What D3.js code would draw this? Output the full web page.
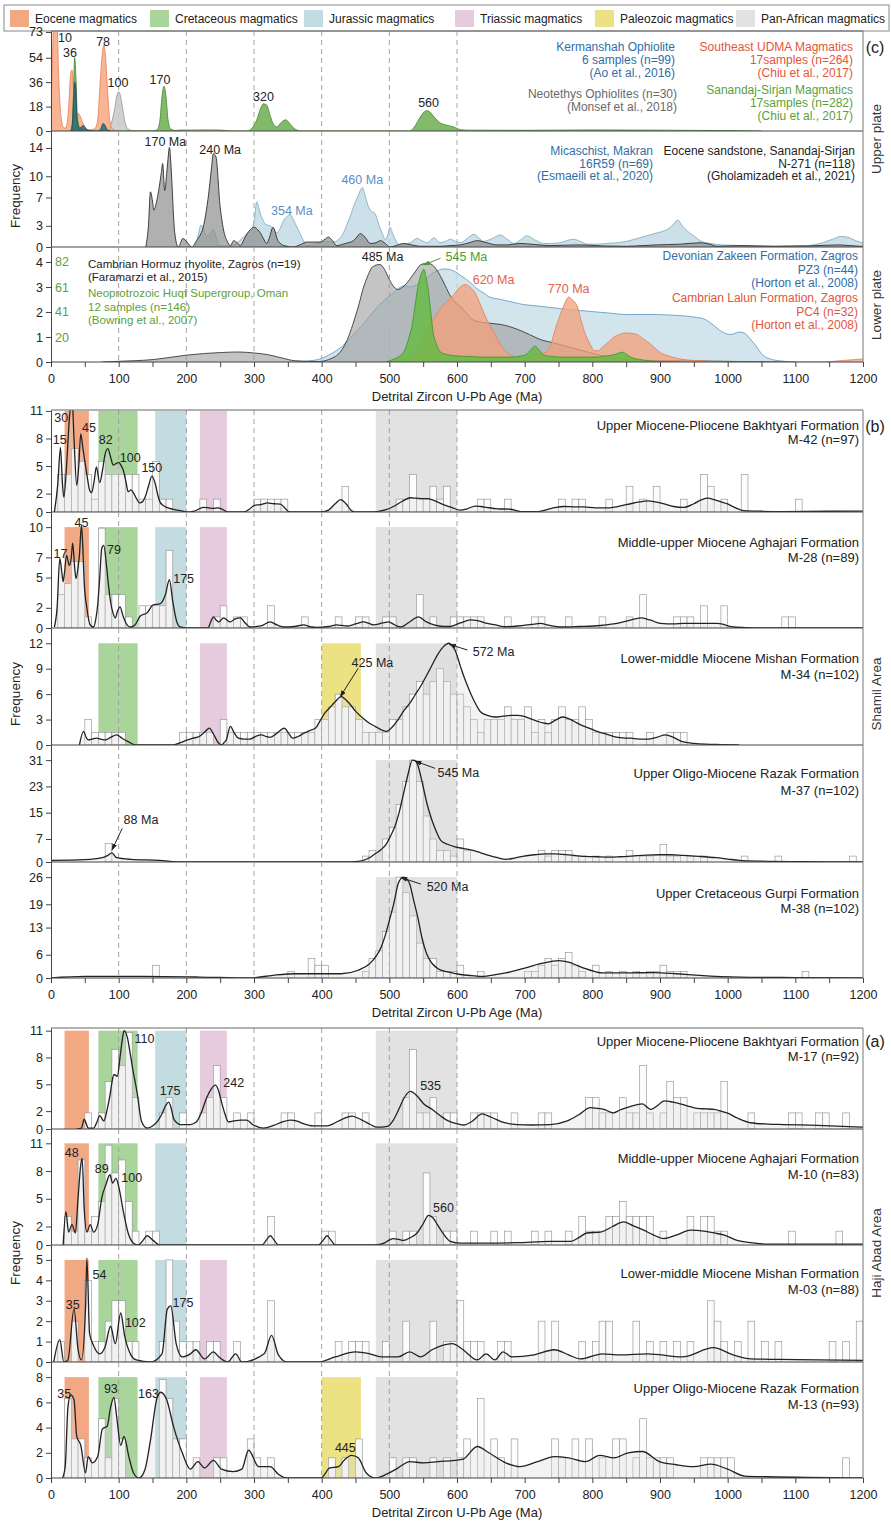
<!DOCTYPE html>
<html>
<head>
<meta charset="utf-8">
<script src="https://cdn.jsdelivr.net/npm/d3@7"></script>
<style>
body { margin: 0; background: #fff; }
text { font-family: "Liberation Sans", Arial, sans-serif; }
</style>
</head>
<body>
<script>
// ---------- data ----------
var legendNames = ["Eocene magmatics", "Cretaceous magmatics", "Jurassic magmatics", "Triassic magmatics", "Paleozoic magmatics", "Pan-African magmatics"];
var bandKeys = ["Eocene", "Cretaceous", "Jurassic", "Triassic", "Paleozoic", "Pan-African"];
var bandRanges = [[20, 56], [70, 128], [154, 200], [220, 260], [400, 458], [480, 600]];
var bandColors = ["#f3a884", "#a9d59d", "#c3dce1", "#e6cbdf", "#ede283", "#e2e2e2"];

var ageTicks = [0, 100, 200, 300, 400, 500, 600, 700, 800, 900, 1000, 1100, 1200];
var minorTicks = [50, 150, 250, 350, 450, 550, 650, 750, 850, 950, 1050, 1150];
var dashAges = [100, 200, 300, 400, 500, 600];

// (c) upper plate, sources
var c1Ticks = [0, 18, 36, 54, 73];
var c1Udma = [[0,15],[2,50],[4,80],[7,85],[9,80],[11,45],[13,22],[15,10],[18,3],[21,2],[24,6],[27,25],[29,42],[31,45],[33,32],[35,14],[37,10],[40,13],[43,11],[46,7],[50,3],[55,1],[60,1],[65,2],[69,8],[72,30],[75,52],[78,63],[80,58],[83,35],[86,12],[89,3],[94,0.5],[100,0]];
var c1Sanandaj = [[28,0],[31,3],[33,25],[35,54],[37,38],[39,10],[42,3],[46,1],[55,0.5],[65,0],[150,0],[157,1],[161,8],[164,25],[167,33],[170,25],[173,8],[177,1.5],[185,0.3],[200,0],[290,0],[297,2],[304,8],[310,17],[314,20],[319,19],[324,11],[330,4],[334,3],[338,5],[343,7.5],[347,8.2],[352,6],[356,3.5],[362,1],[370,0],[530,0],[537,3],[543,8],[548,12],[555,15],[560,14],[565,11],[575,6],[587,4],[595,3],[605,1],[620,0.6],[700,0.5],[800,0.8],[900,0.6],[1000,0.3],[1050,0]];
var c1Kermanshah = [[30,0],[32,8],[34,28],[35,36],[37,28],[38,12],[40,4],[42,2],[45,3],[48,4],[51,2],[55,0.5],[60,0],[70,0],[74,2],[77,5.5],[80,4],[83,1],[88,0]];
var c1Neotethys = [[25,0],[30,1],[40,3],[50,1],[60,0],[82,0],[86,2],[90,7],[94,16],[97,25],[100,29],[103,25],[106,16],[109,7],[113,2],[118,0.5],[125,0],[180,0],[190,0.8],[210,0.8],[230,1],[250,0.8],[265,0]];
var c1Peaks = [["10",20.7,68.5],["36",28,57.5],["78",77,65.6],["100",99,35.4],["170",161,37.6],["320",314,25],["560",558,20.6]];

var c2Ticks = [0, 3, 7, 10, 14];
var c2N271 = [[140,0],[144,3],[147,7.8],[150,6.5],[152,5.2],[156,6.4],[160,8.5],[163,10.5],[165,11.8],[168,8.0],[171,10.4],[173,12.5],[175,14.1],[177,12],[179,8.5],[181,4.5],[183,1.9],[188,0],[195,1.2],[201,0.7],[208,0],[215,0.9],[220,1.6],[225,2.8],[229,4.8],[233,7.5],[237,11],[240,13.2],[244,12.7],[247,9.5],[249,6.6],[252,4.2],[255,2.4],[260,0.9],[265,0.2],[270,0.9],[275,0.6],[280,0.2],[285,1],[290,1.9],[295,2.5],[300,2.8],[305,2.5],[310,1.9],[315,1.0],[319,0.5],[323,1.4],[328,2.8],[331,2.2],[334,1.2],[339,0.5],[344,0.2],[358,0],[370,0.4],[378,0.7],[390,0.7],[398,0.7],[405,1.1],[410,1.4],[416,0.9],[422,0.2],[435,0.5],[447,0.9],[452,1.4],[457,1.9],[464,1.4],[472,0.5],[480,0.6],[487,0.9],[494,0.5],[501,0],[510,0.2],[521,0.5],[533,0.3],[546,0.1],[575,0.1],[590,0.2],[605,0.3],[618,0.6],[630,0.9],[644,0.6],[659,0.3],[675,0.3],[693,0.5],[715,0.35],[737,0.2],[760,0.25],[781,0.3],[815,0.15],[850,0.1],[875,0.2],[895,0.3],[930,0.4],[959,0.6],[975,0.35],[984,0.1],[1018,0.2],[1067,0.1],[1120,0.15],[1165,0.3],[1196,0.1],[1200,0.1]];
var c2R59 = [[213,0],[217,1.5],[222,3.1],[226,2.3],[230,1.5],[235,1.9],[240,2.5],[244,1.4],[248,0.3],[260,0.1],[270,0.3],[278,0.8],[285,1.5],[291,2.0],[297,2.4],[301,4.2],[304,6.4],[307,5.6],[309,4.8],[313,3.9],[316,3.3],[320,3.1],[324,3.0],[329,2.5],[334,2.0],[339,2.7],[344,3.8],[349,4.3],[353,4.6],[357,4.1],[361,3.3],[365,2.5],[368,1.9],[373,0.9],[378,0.2],[388,0.3],[398,0.7],[408,0.8],[418,0.7],[424,1.0],[430,1.6],[435,2.6],[440,3.8],[444,4.8],[447,5.7],[451,6.6],[455,7.5],[460,8.4],[465,7.0],[468,6.0],[472,5.2],[476,4.9],[479,4.7],[483,3.6],[487,2.5],[491,1.6],[494,1.0],[498,1.8],[501,2.8],[505,1.9],[509,1.0],[516,0.3],[523,0.4],[531,0.6],[541,1.2],[548,0.9],[556,0.6],[566,1.3],[575,0.6],[583,0.8],[590,1.1],[598,0.8],[605,0.6],[615,1.2],[625,1.8],[632,1.3],[639,0.8],[650,1.1],[664,1.7],[674,1.1],[684,0.5],[694,1.0],[703,1.6],[715,1.0],[728,0.5],[740,0.5],[752,0.6],[762,0.9],[772,1.1],[782,0.8],[792,0.4],[807,0.4],[822,0.5],[837,0.6],[851,0.8],[866,1.2],[881,1.6],[896,2.0],[911,2.5],[919,3.1],[926,3.8],[933,3.0],[941,2.2],[951,1.5],[961,0.8],[975,0.5],[990,0.3],[1005,0.25],[1020,0.2],[1045,0.15],[1069,0.1],[1095,0.15],[1118,0.2],[1140,0.6],[1155,1.1],[1167,1.5],[1180,1.3],[1187,1.0],[1195,0.7],[1200,0.6]];
var c2PeaksDark = [["170 Ma",169,14.85],["240 Ma",250,13.7]];
var c2PeaksBlue = [["354 Ma",356,5.1],["460 Ma",460,9.5]];

// (c) lower plate
var c3Ticks = [0, 1, 2, 3, 4];
var c3HuqfTicks = [20, 41, 61, 82];
var c3Hormuz = [[75,0],[93,0.02],[152,0.1],[202,0.28],[252,0.38],[277,0.4],[300,0.36],[319,0.3],[340,0.17],[361,0.05],[395,0.02],[415,0.15],[429,0.45],[438,0.9],[446,1.5],[454,2.2],[462,3.0],[469,3.5],[475,3.8],[486,3.9],[493,3.7],[500,3.3],[507,3.0],[513,2.9],[520,3.0],[530,3.3],[538,3.6],[547,3.9],[557,3.95],[565,3.85],[572,3.6],[580,3.2],[589,2.7],[597,2.4],[606,2.2],[614,1.95],[623,1.7],[635,1.6],[648,1.55],[665,1.5],[690,1.3],[707,1.1],[723,0.9],[745,0.75],[765,0.6],[786,0.45],[807,0.3],[828,0.18],[849,0.1],[890,0.06],[933,0.05],[1017,0.02],[1100,0]];
var c3Pz3 = [[361,0],[380,0.04],[395,0.1],[412,0.3],[429,0.6],[442,0.95],[454,1.3],[467,1.7],[479,2.1],[492,2.45],[505,2.75],[517,3.0],[522,3.05],[530,3.0],[538,3.05],[547,3.2],[556,3.4],[564,3.55],[572,3.65],[580,3.72],[589,3.7],[598,3.6],[606,3.45],[614,3.3],[623,3.1],[631,2.9],[640,2.75],[648,2.6],[665,2.5],[681,2.4],[698,2.3],[715,2.25],[732,2.2],[749,2.15],[765,2.1],[786,2.05],[807,2.0],[828,1.95],[849,1.9],[870,1.9],[891,1.9],[912,1.88],[933,1.85],[950,1.8],[967,1.7],[980,1.45],[992,1.2],[1005,1.1],[1017,1.2],[1025,1.15],[1034,0.9],[1043,0.6],[1051,0.3],[1063,0.12],[1076,0.05],[1101,0]];
var c3Pc4 = [[505,0],[513,0.05],[525,0.12],[538,0.3],[547,0.7],[555,1.2],[564,1.65],[572,2.0],[580,2.3],[589,2.5],[597,2.75],[601,2.9],[607,3.05],[612,3.1],[619,3.0],[626,2.8],[633,2.4],[639,2.0],[648,1.5],[656,1.1],[664,0.7],[673,0.4],[681,0.25],[690,0.15],[702,0.2],[715,0.3],[732,0.4],[740,0.8],[744,1.2],[750,1.7],[757,2.2],[762,2.5],[765,2.6],[770,2.5],[778,2.2],[784,1.6],[790,1.1],[797,0.7],[803,0.45],[809,0.45],[815,0.6],[824,0.8],[832,1.0],[840,1.1],[849,1.16],[857,1.15],[866,1.1],[874,0.95],[882,0.8],[891,0.6],[899,0.4],[912,0.25],[924,0.15],[941,0.08],[958,0.05],[1000,0],[1140,0],[1170,0.06],[1200,0.12]];
var c3Huqf = [[495,0],[505,2],[521,8],[530,22],[534,31],[538,46],[542,61],[547,72],[551,76],[554,70],[557,61],[561,42],[564,27],[570,14],[576,8],[586,6],[598,5],[620,4.5],[639,4],[660,4],[681,4],[695,5],[702,6],[709,10],[715,13],[721,10],[727,6],[740,4.5],[757,4],[780,4],[807,4],[820,5],[832,6],[840,7.5],[845,8],[851,6],[857,4],[870,2],[882,1],[900,0.3],[933,0]];
var c3PeaksDark = [["485 Ma",490,4.2]];
var c3PeaksGreen = [["545 Ma",614,4.2]];
var c3PeaksRed = [["620 Ma",654,3.28],["770 Ma",765,2.92]];
var c3Arrow = [[575.7,4.15,550.5,3.88]];

// (b) Shamil Area
var b1Ticks = [0, 2, 5, 8, 11];
var b1Bands = ["Eocene", "Cretaceous", "Jurassic", "Triassic", "Pan-African"];
var b1Bars = [[10,4.1],[20,4.1],[30,6.9],[40,5.5],[50,4.1],[60,1.4],[70,5.5],[80,4.1],[90,4.1],[100,4.1],[110,4.1],[120,4.1],[130,1.4],[140,1.4],[150,5.5],[160,1.4],[170,1.4],[220,1.4],[240,1.4],[300,1.4],[310,1.4],[320,1.4],[330,1.4],[340,1.4],[430,2.8],[510,1.4],[520,1.4],[530,4.1],[540,1.4],[550,1.4],[560,2.8],[570,1.4],[580,2.8],[630,1.4],[640,1.4],[670,1.4],[750,1.4],[770,1.4],[780,1.4],[820,1.4],[850,2.8],[870,1.4],[890,2.8],[930,1.4],[960,4.1],[970,2.8],[990,1.4],[1020,4.1],[1100,1.4]];
var b1Kde = [[5,0],[10,3],[14,7.0],[17,3],[19,1.6],[23,5],[27,10],[31,12.5],[34,8],[38,2.9],[41,5],[44,8.5],[47,7],[53,4.1],[57,2.4],[60,2.1],[64,3.5],[67,4.9],[72,3.2],[76,4.5],[80,6.3],[84,6.9],[88,6],[92,5.1],[97,5.3],[100,5.4],[104,5.0],[107,4.5],[111,3.2],[114,2.2],[118,2.4],[121,2.2],[126,1.5],[131,1.0],[135,1.1],[139,1.6],[144,2.8],[149,3.9],[154,3.1],[158,1.8],[161,1.1],[166,0.7],[171,0.5],[180,0.3],[191,0.15],[200,0],[212,0.1],[225,0.5],[233,0.45],[240,0.4],[246,0.45],[252,0.35],[258,0.1],[262,0],[285,0],[293,0.3],[300,0.7],[309,0.8],[315,0.9],[319,1.0],[324,0.95],[329,0.9],[339,0.85],[345,0.5],[351,0.05],[358,0],[400,0],[410,0.2],[420,0.9],[428,1.35],[436,0.9],[445,0.1],[452,0],[470,0],[482,0.05],[495,0.25],[506,0.6],[520,1.2],[531,1.55],[540,1.5],[550,1.45],[556,1.45],[565,1.3],[580,0.8],[592,0.5],[605,0.2],[615,0.35],[627,0.65],[635,0.6],[644,0.5],[660,0.35],[679,0.3],[694,0.05],[718,0.05],[740,0.4],[758,0.6],[775,0.55],[787,0.55],[805,0.45],[822,0.45],[850,0.8],[870,1.1],[881,1.2],[893,1.1],[905,0.9],[920,0.6],[935,0.5],[950,0.9],[962,1.35],[970,1.5],[980,1.35],[990,1.1],[999,0.9],[1010,0.5],[1024,0.15],[1050,0.08],[1083,0.05],[1150,0.08],[1200,0.1]];
var b1Title = ["Upper Miocene-Pliocene Bakhtyari Formation", "M-42 (n=97)"];
var b1Peaks = [["15",13,7.8],["30",15,10.2],["45",56,9.1],["82",81,7.8],["100",117,5.9],["150",149,4.8]];

var b2Ticks = [0, 2, 5, 7, 10];
var b2Bands = ["Eocene", "Cretaceous", "Jurassic", "Triassic", "Pan-African"];
var b2Bars = [[10,3.3],[20,4.4],[30,6.6],[40,6.6],[50,1.1],[70,9.9],[80,3.3],[90,3.3],[100,3.3],[110,1.1],[130,2.2],[140,2.2],[150,2.2],[160,2.2],[170,7.7],[240,1.1],[250,2.2],[270,1.1],[280,1.1],[320,2.2],[370,1.1],[420,1.1],[450,1.1],[460,1.1],[490,1.1],[500,1.1],[540,3.3],[560,1.1],[590,1.1],[600,1.1],[610,1.1],[620,1.1],[630,1.1],[670,1.1],[710,1.1],[720,1.1],[760,1.1],[810,1.1],[850,1.1],[870,3.3],[920,1.1],[930,1.1],[940,1.1],[960,2.2],[990,2.2],[1080,1.1],[1090,1.1]];
var b2Kde = [[5,0.1],[9,2],[13,6.9],[16,5.5],[18,4.6],[20,5.5],[23,7.2],[27,6.2],[30,7],[32,8.4],[35,6],[37,4.9],[40,6],[42,7.2],[45,10.2],[47,8],[49,4.6],[53,2.0],[58,0.3],[63,0.1],[66,0.8],[69,2.3],[72,5],[75,7.9],[78,8.2],[82,6.2],[85,4.2],[88,2.6],[92,1.4],[95,1.0],[98,1.6],[102,2.1],[106,1.3],[110,0.6],[117,0.1],[124,0.3],[132,1.2],[142,1.5],[151,2.3],[161,2.4],[169,3.3],[175,4.8],[180,2.6],[186,0.6],[191,0.1],[201,0],[232,0],[236,0.6],[240,1.1],[244,0.8],[248,0.6],[255,1.0],[265,0.6],[272,0.9],[280,1.0],[287,0.5],[294,0.1],[310,0.2],[324,0.6],[334,0.3],[344,0.1],[360,0.15],[373,0.3],[385,0.1],[393,0.05],[410,0.15],[422,0.3],[430,0.25],[437,0.2],[450,0.4],[462,0.6],[470,0.45],[477,0.3],[490,0.5],[499,0.6],[508,0.3],[516,0.1],[530,0.6],[543,1.1],[555,0.6],[566,0.3],[580,0.15],[590,0.15],[605,0.5],[620,0.8],[632,0.7],[645,0.45],[657,0.3],[669,0.13],[690,0.2],[710,0.35],[723,0.45],[737,0.25],[753,0.1],[780,0.15],[812,0.25],[840,0.5],[860,0.85],[872,1.0],[885,0.8],[901,0.45],[920,0.4],[935,0.45],[955,0.45],[985,0.45],[1009,0.1],[1030,0.03],[1058,0],[1200,0]];
var b2Title = ["Middle-upper Miocene Aghajari Formation", "M-28 (n=89)"];
var b2Peaks = [["45",45,10.4],["17",14,7.3],["79",93,7.7],["175",196,4.9]];

var b3Ticks = [0, 3, 6, 9, 12];
var b3Bands = ["Cretaceous", "Triassic", "Paleozoic", "Pan-African"];
var b3Bars = [[50,3.0],[60,1.5],[70,1.5],[80,1.5],[90,1.5],[100,1.5],[190,1.5],[200,1.5],[210,1.5],[220,1.5],[230,1.5],[250,3.0],[260,1.5],[270,1.5],[280,1.5],[290,1.5],[300,1.5],[310,1.5],[320,1.5],[330,1.5],[340,1.5],[350,1.5],[360,1.5],[370,1.5],[380,1.5],[390,3.0],[400,3.0],[410,4.5],[420,6.0],[430,4.5],[440,4.5],[450,3.0],[460,1.5],[470,1.5],[480,1.5],[490,1.5],[500,3.0],[510,3.0],[520,4.5],[530,6.0],[540,7.5],[550,6.0],[560,7.5],[570,9.0],[580,7.5],[590,6.0],[600,6.0],[610,4.5],[620,3.0],[630,1.5],[640,3.0],[650,3.0],[660,3.0],[670,4.5],[680,3.0],[690,3.0],[700,4.5],[710,1.5],[720,3.0],[730,1.5],[740,3.0],[750,4.5],[760,3.0],[770,3.0],[780,4.5],[790,3.0],[800,1.5],[810,1.5],[820,1.5],[830,1.5],[840,1.5],[850,1.5],[880,1.5],[910,1.5],[920,1.5],[930,1.5]];
var b3Kde = [[42,0],[48,1.6],[52,0.9],[55,0.6],[61,0.7],[67,0.8],[73,0.7],[80,0.6],[88,0.9],[97,1.2],[105,0.8],[114,0.4],[126,0],[181,0],[192,0.3],[202,0.6],[210,0.8],[219,1.0],[228,1.6],[234,2.0],[240,1.3],[248,0.2],[252,0],[256,0.3],[259,0.6],[265,2.2],[271,1.4],[277,0.8],[285,0.7],[294,0.7],[302,1.0],[311,1.2],[318,1.0],[324,0.9],[334,1.4],[345,2.0],[351,1.4],[357,0.8],[365,1.0],[374,1.4],[382,1.7],[391,2.0],[398,2.9],[404,3.7],[412,4.4],[420,5.1],[429,5.7],[435,5.4],[441,4.9],[450,4.0],[462,3.1],[470,2.6],[479,2.2],[488,1.8],[496,1.6],[504,2.1],[513,3.0],[521,4.0],[530,4.9],[538,5.9],[546,6.9],[555,8.2],[563,9.4],[571,10.6],[580,11.6],[588,12.0],[593,11.7],[597,11.2],[605,9.3],[611,7.9],[618,6.5],[626,5.1],[635,3.9],[645,3.5],[656,3.3],[668,3.4],[681,3.5],[690,3.5],[698,3.4],[708,3.1],[719,2.8],[727,2.6],[735,2.5],[745,2.9],[756,3.3],[765,3.1],[773,2.8],[782,2.4],[795,2.0],[807,1.6],[820,1.3],[832,1.0],[845,0.85],[857,0.8],[870,0.7],[882,0.7],[895,0.9],[908,1.2],[920,0.9],[933,0.4],[950,0.2],[967,0.1],[990,0.05],[1017,0]];
var b3Title = ["Lower-middle Miocene Mishan Formation", "M-34 (n=102)"];
var b3Notes = [["425 Ma",475,9.63],["572 Ma",654,10.93]];
var b3Arrows = [[454,9.05,427.5,5.7],[615.4,11.2,588.8,11.87]];

var b4Ticks = [0, 7, 15, 23, 31];
var b4Bands = ["Pan-African"];
var b4Bars = [[80,5.6],[460,1.8],[470,3.5],[490,7.0],[500,10.5],[510,17.5],[520,24.5],[530,31],[540,24.5],[550,14],[560,7],[570,3.5],[580,3.5],[590,1.8],[600,7.0],[610,3.5],[720,3.5],[730,1.8],[740,3.5],[750,3.5],[760,3.5],[770,1.8],[780,1.8],[800,1.8],[820,1.8],[850,3.5],[870,1.8],[880,1.8],[900,5.3],[910,1.8],[920,1.8],[940,1.8],[960,1.8],[1020,1.8],[1070,1.8],[1180,1.8]];
var b4Kde = [[0,0.5],[50,0.7],[76,1.3],[84,2.0],[90,2.8],[97,1.3],[118,0.8],[160,0.5],[193,0],[430,0],[454,0.2],[470,1.2],[479,2.5],[488,3.8],[496,5.6],[502,8],[508,10.7],[515,15.5],[521,20.8],[528,27],[534,31],[538,30.8],[542,29.5],[546,26.5],[550,22.9],[556,17.5],[563,12.7],[570,9],[576,6.6],[586,5.4],[597,4.6],[610,4.1],[622,3.6],[635,2.8],[647,2.0],[660,1.3],[672,0.8],[685,1.2],[697,1.7],[714,2.2],[731,2.5],[745,2.5],[756,2.3],[773,2.0],[790,1.7],[807,1.6],[824,1.5],[840,1.6],[858,1.8],[880,2.1],[900,2.2],[916,2.2],[933,2.0],[958,1.7],[983,1.3],[1000,0.9],[1017,0.5],[1050,0.25],[1101,0.1],[1150,0.05],[1202,0]];
var b4Title = ["Upper Oligo-Miocene Razak Formation", "M-37 (n=102)"];
var b4Notes = [["545 Ma",602,27],["88 Ma",133,12.8]];
var b4Arrows = [[567.6,28.5,538,30.7],[105.3,10.24,90.1,3.65]];

var b5Ticks = [0, 6, 13, 19, 26];
var b5Bands = ["Pan-African"];
var b5Bars = [[150,3.3],[350,1.7],[380,5.0],[390,3.3],[400,3.3],[460,1.7],[470,5.0],[480,7],[490,12],[500,17],[510,26],[520,22],[530,16],[540,9],[550,5],[560,5],[570,1.7],[580,1.7],[590,1.7],[600,3.3],[630,1.7],[700,1.7],[710,1.7],[720,3.3],[730,5.0],[740,3.3],[750,5.0],[760,6.6],[770,3.3],[780,1.7],[800,3.3],[820,1.7],[840,1.7],[860,1.7],[880,1.7],[890,1.7],[900,3.3],[910,1.7],[920,1.7],[930,1.7],[1110,1.7]];
var b5Kde = [[0,0],[50,0.4],[135,0.4],[219,0.25],[294,0],[328,0.7],[361,1.1],[395,1.1],[429,1.1],[454,2.0],[471,3.7],[480,5.5],[488,8.0],[494,11],[500,14.8],[507,19.5],[513,24.3],[517,25.6],[521,26],[526,25.5],[530,24.3],[536,20],[542,15.7],[548,10.5],[555,6.3],[563,3.8],[572,2.4],[588,1.5],[605,0.9],[622,0.6],[639,0.4],[655,0.8],[672,1.3],[697,2.4],[723,3.7],[740,4.3],[750,4.5],[765,4.1],[778,3.2],[790,2.4],[803,1.7],[815,1.3],[849,1.3],[891,1.4],[925,1.1],[958,0.7],[1017,0.25],[1101,0.1],[1202,0]];
var b5Title = ["Upper Cretaceous Gurpi Formation", "M-38 (n=102)"];
var b5Notes = [["520 Ma",586,23.5]];
var b5Arrows = [[546.6,24.2,517.2,25.9]];

// (a) Haji Abad Area
var a1Ticks = [0, 2, 5, 8, 11];
var a1Bands = ["Eocene", "Cretaceous", "Jurassic", "Triassic", "Pan-African"];
var a1Bars = [[50,1.8],[70,1.8],[80,5.3],[90,8.9],[100,7.1],[110,10.8],[120,3.5],[160,1.8],[170,3.5],[190,1.8],[220,1.8],[230,3.5],[240,7.1],[250,3.5],[270,1.8],[290,1.8],[340,1.8],[350,1.8],[390,1.8],[430,1.8],[440,1.8],[460,1.8],[520,3.5],[530,8.9],[540,1.8],[550,1.8],[560,3.5],[580,1.8],[590,1.8],[620,1.8],[630,1.8],[640,1.8],[650,1.8],[680,1.8],[720,1.8],[730,1.8],[790,3.5],[800,3.5],[810,1.8],[820,1.8],[840,3.5],[850,1.8],[860,1.8],[870,7.1],[880,1.8],[900,1.8],[910,5.3],[920,3.5],[930,3.5],[950,1.8],[960,1.8],[970,1.8],[980,1.8],[990,5.3],[1030,1.8],[1090,1.8],[1100,1.8],[1130,1.8],[1140,1.8],[1170,1.8]];
var a1Kde = [[38,0],[45,0.1],[49,1.1],[52,0.6],[55,0.1],[63,0.1],[68,0.8],[72,1.5],[75,1.2],[78,0.9],[83,2.2],[87,3.7],[90,5.2],[93,6.1],[98,5.9],[102,8.0],[105,9.8],[108,11],[113,10.2],[117,8.5],[121,6.6],[125,5],[128,3.7],[131,2],[134,0.8],[142,0.1],[151,0.4],[158,0.9],[164,1.7],[170,2.7],[174,3.0],[178,2.2],[181,1.2],[186,0.7],[191,0.5],[206,0.5],[215,0.8],[222,1.8],[230,3.5],[237,4.5],[243,4.9],[248,4.2],[252,3.0],[257,1.7],[262,0.8],[270,0.9],[280,1.0],[289,1.0],[299,0.45],[314,0.1],[329,0.4],[342,0.8],[354,1.0],[365,0.85],[373,0.6],[388,0.35],[408,0.35],[420,0.7],[428,1.0],[437,1.3],[445,1.45],[454,1.2],[462,0.9],[472,0.5],[482,0.2],[497,0.3],[506,1.0],[514,2.2],[522,3.5],[531,4.2],[541,3.7],[551,2.8],[563,2.2],[575,1.5],[587,0.9],[600,0.6],[610,0.45],[623,0.9],[637,1.7],[645,1.5],[654,1.2],[670,0.7],[689,0.5],[710,0.45],[738,0.5],[763,0.9],[780,1.6],[797,2.4],[808,2.3],[817,2.2],[831,1.8],[840,2.1],[851,2.4],[865,2.7],[874,2.8],[880,2.5],[886,2.2],[896,2.6],[906,3.15],[916,3.05],[926,2.9],[940,2.6],[955,2.3],[968,2.25],[980,2.2],[990,2.0],[999,1.8],[1015,1.2],[1034,0.7],[1060,0.55],[1083,0.5],[1133,0.4],[1170,0.3],[1202,0.2]];
var a1Title = ["Upper Miocene-Pliocene Bakhtyari Formation", "M-17 (n=92)"];
var a1Peaks = [["110",138,10.1],["175",176,4.25],["242",270,5.1],["535",561,4.85]];

var a2Ticks = [0, 2, 5, 8, 11];
var a2Bands = ["Eocene", "Cretaceous", "Jurassic", "Pan-African"];
var a2Bars = [[20,3.1],[30,1.5],[40,9.2],[50,1.5],[60,3.1],[70,4.7],[80,10.8],[90,7.8],[100,9.2],[110,4.7],[120,1.5],[140,1.5],[150,1.5],[320,3.1],[400,1.5],[410,1.5],[500,1.5],[520,1.5],[530,1.5],[550,7.8],[560,3.1],[580,1.5],[590,1.5],[620,1.5],[650,1.5],[670,1.5],[710,1.5],[730,1.5],[760,1.5],[780,3.1],[790,1.5],[800,1.5],[810,1.5],[820,3.1],[830,3.1],[840,4.7],[850,3.1],[860,3.1],[870,3.1],[880,3.1],[900,1.5],[940,3.1],[960,3.1],[970,3.1],[980,1.5],[990,1.5],[1090,1.5],[1160,1.5]];
var a2Kde = [[18,0],[22,3.6],[26,1.4],[31,2.2],[36,1.3],[40,5.1],[44,8.7],[46,9.4],[49,4.0],[53,1.4],[58,2.2],[63,1.4],[69,2.2],[75,5.1],[81,6.5],[87,7.6],[91,6.7],[96,7.2],[101,6.0],[107,3.6],[114,1.3],[122,0.2],[129,0],[136,0.5],[142,1.0],[151,0.5],[161,0],[312,0],[318,0.5],[324,1.0],[330,0.5],[336,0],[395,0],[402,0.5],[408,1.0],[414,0.5],[420,0],[480,0],[492,0.2],[499,0.5],[506,0.7],[514,0.6],[521,0.5],[531,0.8],[541,1.3],[550,2.3],[558,3.2],[565,2.9],[571,2.2],[580,1.2],[590,0.4],[605,0.2],[640,0.2],[689,0.25],[738,0.4],[768,0.4],[780,0.8],[792,1.3],[812,1.4],[830,2.0],[846,2.5],[860,2.1],[876,1.6],[890,1.1],[906,0.7],[925,1.1],[945,1.6],[965,1.5],[980,1.3],[994,1.1],[1014,0.5],[1035,0.25],[1058,0.1],[1201,0.1]];
var a2Title = ["Middle-upper Miocene Aghajari Formation", "M-10 (n=83)"];
var a2Peaks = [["48",30.6,10],["89",75,8.2],["100",119.3,7.3],["560",580,3.97]];

var a3Ticks = [0, 1, 2, 3, 4, 5];
var a3Bands = ["Eocene", "Cretaceous", "Jurassic", "Triassic", "Pan-African"];
var a3Bars = [[10,1],[30,2],[50,4],[60,1],[70,1],[80,2],[90,3],[100,3],[110,1],[120,1],[160,1],[170,5],[180,2],[190,1],[200,1],[210,1],[230,1],[240,1],[270,1],[320,3],[420,1],[440,1],[450,1],[460,1],[490,1],[520,2],[560,2],[580,1],[590,1],[600,3],[610,1],[620,1],[630,1],[660,1],[670,1],[720,2],[740,2],[780,1],[800,1],[810,2],[820,2],[860,2],[880,1],[900,1],[920,1],[940,1],[970,3],[980,2],[990,1],[1010,1],[1030,2],[1050,1],[1070,1],[1150,1],[1170,1],[1190,2]];
var a3Kde = [[4,0],[13,1.1],[19,0],[25,0.1],[34,2.6],[40,0.6],[45,0.1],[51,2.6],[53,5.1],[57,1.4],[63,0.8],[72,0.4],[80,0.75],[88,1.75],[95,0.9],[103,2.4],[109,1.25],[118,0.35],[126,0.1],[147,0],[164,0.4],[172,2.6],[177,2.75],[185,0.9],[194,0.25],[206,0.4],[214,0.6],[227,0.15],[240,0.5],[248,0.25],[261,0],[273,0.4],[282,0],[315,0.4],[326,1.3],[336,0.35],[349,0],[395,0],[420,0.25],[450,0.5],[471,0.4],[488,0.25],[513,0.25],[530,0.5],[546,0.25],[563,0.6],[593,0.9],[609,0.6],[630,0.1],[643,0.4],[656,0.1],[668,0.5],[681,0.25],[714,0.35],[744,0.6],[765,0.35],[782,0.15],[815,0.4],[840,0.35],[882,0.4],[933,0.25],[979,0.7],[1008,0.35],[1034,0.15],[1101,0.12],[1202,0.08]];
var a3Title = ["Lower-middle Miocene Mishan Formation", "M-03 (n=88)"];
var a3Peaks = [["54",71.6,4.26],["35",32,2.8],["102",124.6,1.9],["175",195,2.88]];

var a4Ticks = [0, 2, 4, 6, 8];
var a4Bands = ["Eocene", "Cretaceous", "Jurassic", "Triassic", "Paleozoic", "Pan-African"];
var a4Bars = [[20,6.3],[30,3.1],[40,3.1],[50,1.6],[70,4.7],[80,1.6],[90,6.3],[100,3.1],[160,7.8],[170,6.3],[180,3.1],[190,3.1],[210,1.6],[240,1.6],[250,1.6],[290,3.1],[300,1.6],[320,1.6],[410,1.6],[430,1.6],[450,3.1],[500,1.6],[520,1.6],[530,1.6],[560,1.6],[580,1.6],[600,1.6],[610,3.1],[630,6.3],[650,3.1],[660,1.6],[680,3.1],[740,3.1],[750,1.6],[770,3.1],[790,3.1],[810,1.6],[830,3.1],[840,3.1],[860,1.6],[870,4.7],[880,1.6],[890,1.6],[900,1.6],[910,1.6],[960,1.6],[970,1.6],[980,1.6],[990,1.6],[1000,1.6],[1170,1.6]];
var a4Kde = [[17,0],[21,0.9],[25,5.6],[29,6.6],[34,6.2],[38,3.3],[44,2.6],[51,0.4],[55,1.7],[61,1.2],[69,1.7],[76,3.9],[83,4.1],[88,5.6],[93,6.4],[97,4.9],[103,2.6],[108,3.3],[115,1.7],[122,0.4],[130,0],[139,0.7],[147,3.0],[156,6.2],[162,6.8],[171,6.2],[181,4.1],[194,2.0],[206,0.7],[217,1.3],[227,0.8],[240,1.4],[252,0.7],[269,0.5],[282,0.7],[292,2.2],[307,0.9],[324,0.9],[336,0.3],[349,0],[399,0],[412,0.8],[425,0.9],[433,1.4],[444,1.8],[454,1.6],[466,0.4],[479,0],[496,0.3],[513,0.8],[530,1.3],[551,1.2],[572,1.3],[597,1.4],[609,1.5],[630,2.5],[647,2.0],[672,1.2],[693,0.9],[719,1.3],[744,1.7],[765,1.6],[790,1.3],[811,1.8],[832,1.6],[853,2.0],[874,2.1],[899,1.3],[924,1.05],[950,0.9],[975,1.1],[1000,0.7],[1025,0.15],[1059,0.1],[1202,0]];
var a4Title = ["Upper Oligo-Miocene Razak Formation", "M-13 (n=93)"];
var a4Peaks = [["35",19.5,6.7],["93",88.5,7.04],["163",144,6.7],["445",435,2.36]];

// ---------- layout ----------
var W = 891, H = 1522;
var legendX = [10, 150, 304, 455, 595, 736];
var FONT = '"Liberation Sans", Arial, sans-serif';

var svg = d3.select("body").append("svg")
	.attr("width", W)
	.attr("height", H)
	.style("background", "#fff");

var defs = svg.append("defs");
[["arrowK", "#222"], ["arrowG", "#4f9a35"]].forEach(function(m) {
	defs.append("marker")
		.attr("id", m[0])
		.attr("viewBox", "0 0 10 10")
		.attr("refX", 9).attr("refY", 5)
		.attr("markerWidth", 7).attr("markerHeight", 7)
		.attr("orient", "auto")
		.append("path").attr("d", "M0,1.5 L10,5 L0,8.5 Z").attr("fill", m[1]);
});

var x = d3.scaleLinear().domain([0, 1200]).range([51, 863]);

// legend
var legend = svg.append("g");
legend.append("rect")
	.attr("x", 4).attr("y", 5).attr("width", 885).attr("height", 26)
	.attr("fill", "#fff").attr("stroke", "#888").attr("stroke-width", 1);
legendNames.forEach(function(name, i) {
	legend.append("rect")
		.attr("x", legendX[i]).attr("y", 10).attr("width", 19).attr("height", 17)
		.attr("fill", bandColors[i]);
	legend.append("text")
		.attr("x", legendX[i] + 25).attr("y", 18.5)
		.attr("dominant-baseline", "central")
		.attr("font-size", 12).attr("fill", "#222")
		.text(name);
});

var clipCount = 0;

function yAxis(g, y, ticks) {
	g.append("g")
		.attr("transform", "translate(" + x(0) + ",0)")
		.call(d3.axisLeft(y).tickValues(ticks).tickSize(5).tickSizeOuter(0).tickPadding(3)
			.tickFormat(function(d) { return String(d); }))
		.call(function(a) {
			a.select(".domain").attr("stroke", "#444");
			a.selectAll(".tick line").attr("stroke", "#444");
			a.selectAll("text").attr("font-size", 12.5).attr("fill", "#222").attr("font-family", FONT);
		});
}

function panelFrame(p) {
	var g = svg.append("g");
	var y = d3.scaleLinear().domain([0, p.yMax]).range([p.bottom, p.top]);
	var id = "clip" + (clipCount++);
	defs.append("clipPath").attr("id", id)
		.append("rect").attr("x", x(0)).attr("y", p.top)
		.attr("width", x(1200) - x(0)).attr("height", p.bottom - p.top);
	var inner = g.append("g").attr("clip-path", "url(#" + id + ")");
	return {g: g, y: y, inner: inner};
}

function dashes(inner, y, p) {
	inner.selectAll(".dash").data(dashAges).enter().append("line")
		.attr("x1", function(d) { return x(d); }).attr("x2", function(d) { return x(d); })
		.attr("y1", p.top).attr("y2", p.bottom)
		.attr("stroke", "#9a9a9a").attr("stroke-width", 0.9)
		.attr("stroke-dasharray", "5,4");
}

function labels(g, y, list, color, size) {
	g.selectAll(null).data(list).enter().append("text")
		.attr("x", function(d) { return x(d[1]); })
		.attr("y", function(d) { return y(d[2]); })
		.attr("text-anchor", "middle").attr("dominant-baseline", "central")
		.attr("font-size", size || 12.5).attr("fill", color)
		.text(function(d) { return d[0]; });
}

function arrows(g, y, list, marker, color) {
	g.selectAll(null).data(list).enter().append("line")
		.attr("x1", function(d) { return x(d[0]); }).attr("y1", function(d) { return y(d[1]); })
		.attr("x2", function(d) { return x(d[2]); }).attr("y2", function(d) { return y(d[3]); })
		.attr("stroke", color).attr("stroke-width", 1)
		.attr("marker-end", "url(#" + marker + ")");
}

function notes(g, list) {
	list.forEach(function(n) {
		n.lines.forEach(function(t, i) {
			g.append("text")
				.attr("x", n.x).attr("y", n.y + i * n.step)
				.attr("text-anchor", n.anchor).attr("dominant-baseline", "central")
				.attr("font-size", n.size).attr("fill", n.color)
				.text(t);
		});
	});
}

function areaPath(inner, y, data, fill, opacity, stroke) {
	var ar = d3.area().x(function(d) { return x(d[0]); })
		.y0(y(0)).y1(function(d) { return y(d[1]); })
		.curve(d3.curveMonotoneX);
	var ln = d3.line().x(function(d) { return x(d[0]); })
		.y(function(d) { return y(d[1]); })
		.curve(d3.curveMonotoneX);
	inner.append("path").datum(data).attr("d", ar)
		.attr("fill", fill).attr("fill-opacity", opacity);
	inner.append("path").datum(data).attr("d", ln)
		.attr("fill", "none").attr("stroke", stroke).attr("stroke-width", 0.9);
}

function baseLine(g, y) {
	g.append("line")
		.attr("x1", x(0)).attr("x2", x(1200))
		.attr("y1", y(0)).attr("y2", y(0))
		.attr("stroke", "#444").attr("stroke-width", 1.2);
}

// ---------- (c) ----------
var pc1 = {top: 31, bottom: 131, yMax: 73.7};
var pc2 = {top: 131, bottom: 247, yMax: 16.4};
var pc3 = {top: 247, bottom: 362, yMax: 4.6};

var f1 = panelFrame(pc1);
dashes(f1.inner, f1.y, pc1);
areaPath(f1.inner, f1.y, c1Neotethys, "#c9c9c9", 0.85, "#9b9b9b");
areaPath(f1.inner, f1.y, c1Udma, "#f6a27c", 0.8, "#e9855c");
areaPath(f1.inner, f1.y, c1Sanandaj, "#76b25a", 0.9, "#4f8f35");
areaPath(f1.inner, f1.y, c1Kermanshah, "#2c6a78", 0.85, "#1d4f5a");
baseLine(f1.g, f1.y);
yAxis(f1.g, f1.y, c1Ticks);
labels(f1.g, f1.y, c1Peaks, "#222");
notes(f1.g, [
	{lines: ["Kermanshah Ophiolite", "6 samples (n=99)", "(Ao et al., 2016)"], x: 675, y: 47, step: 13, anchor: "end", size: 12, color: "#2e6ea6"},
	{lines: ["Neotethys Ophiolites (n=30)", "(Monsef et al., 2018)"], x: 677, y: 94, step: 13, anchor: "end", size: 12, color: "#6a6a6a"},
	{lines: ["Southeast UDMA Magmatics", "17samples (n=264)", "(Chiu et al., 2017)"], x: 853, y: 47, step: 13, anchor: "end", size: 12, color: "#e2553b"},
	{lines: ["Sanandaj-Sirjan Magmatics", "17samples (n=282)", "(Chiu et al., 2017)"], x: 853, y: 90, step: 13, anchor: "end", size: 12, color: "#5b9f3b"}
]);

var f2 = panelFrame(pc2);
dashes(f2.inner, f2.y, pc2);
areaPath(f2.inner, f2.y, c2R59, "#b9d6e0", 0.75, "#86afc2");
areaPath(f2.inner, f2.y, c2N271, "#8e8e8e", 0.7, "#2e2e2e");
baseLine(f2.g, f2.y);
yAxis(f2.g, f2.y, c2Ticks);
labels(f2.g, f2.y, c2PeaksDark, "#222");
labels(f2.g, f2.y, c2PeaksBlue, "#5b8fc4");
notes(f2.g, [
	{lines: ["Micaschist, Makran", "16R59 (n=69)", "(Esmaeili et al., 2020)"], x: 653, y: 151, step: 12.5, anchor: "end", size: 12, color: "#2e6ea6"},
	{lines: ["Eocene sandstone, Sanandaj-Sirjan", "N-271 (n=118)", "(Gholamizadeh et al., 2021)"], x: 855, y: 151, step: 12.5, anchor: "end", size: 12, color: "#222"}
]);

var f3 = panelFrame(pc3);
var yHuqf = d3.scaleLinear().domain([0, pc3.yMax * 20.5]).range([pc3.bottom, pc3.top]);
dashes(f3.inner, f3.y, pc3);
areaPath(f3.inner, f3.y, c3Pz3, "#c3dbe6", 0.75, "#6c9fc6");
areaPath(f3.inner, f3.y, c3Hormuz, "#9c9c9c", 0.6, "#3a3a3a");
areaPath(f3.inner, f3.y, c3Pc4, "#f3a07a", 0.75, "#e3845d");
areaPath(f3.inner, yHuqf, c3Huqf, "#66bb47", 0.85, "#3f9a2c");
baseLine(f3.g, f3.y);
yAxis(f3.g, f3.y, c3Ticks);
f3.g.selectAll(null).data(c3HuqfTicks).enter().append("text")
	.attr("x", 55).attr("y", function(d) { return yHuqf(d); })
	.attr("dominant-baseline", "central")
	.attr("font-size", 12.5).attr("fill", "#5b9f3b")
	.text(function(d) { return d; });
labels(f3.g, f3.y, c3PeaksDark, "#222");
labels(f3.g, f3.y, c3PeaksGreen, "#4f9a35");
labels(f3.g, f3.y, c3PeaksRed, "#e0634a");
arrows(f3.g, f3.y, c3Arrow, "arrowG", "#4f9a35");
notes(f3.g, [
	{lines: ["Cambrian Hormuz rhyolite, Zagros (n=19)", "(Faramarzi et al., 2015)"], x: 88, y: 264, step: 13, anchor: "start", size: 11.5, color: "#222"},
	{lines: ["Neoprotrozoic Huqf Supergroup, Oman", "12 samples (n=146)", "(Bowring et al., 2007)"], x: 88, y: 293, step: 13.5, anchor: "start", size: 11.5, color: "#5b9f3b"},
	{lines: ["Devonian Zakeen Formation, Zagros", "PZ3 (n=44)", "(Horton et al., 2008)"], x: 858, y: 256, step: 13.5, anchor: "end", size: 12, color: "#2e6ea6"},
	{lines: ["Cambrian Lalun Formation, Zagros", "PC4 (n=32)", "(Horton et al., 2008)"], x: 858, y: 298, step: 13.5, anchor: "end", size: 12, color: "#e2553b"}
]);

// ---------- histogram panels ----------
function histPanel(p) {
	var f = panelFrame(p);
	var y = f.y;
	p.bands.forEach(function(key) {
		var i = bandKeys.indexOf(key);
		f.inner.append("rect")
			.attr("x", x(bandRanges[i][0])).attr("width", x(bandRanges[i][1]) - x(bandRanges[i][0]))
			.attr("y", y(p.bandTop)).attr("height", y(0) - y(p.bandTop))
			.attr("fill", bandColors[i]);
	});
	f.inner.selectAll(".bar").data(p.bars).enter().append("rect")
		.attr("x", function(d) { return x(d[0]); })
		.attr("width", x(10) - x(0))
		.attr("y", function(d) { return y(d[1]); })
		.attr("height", function(d) { return y(0) - y(d[1]); })
		.attr("fill", "#fcfcfc").attr("stroke", "#8d8d8d").attr("stroke-width", 0.6);
	dashes(f.inner, y, p);
	var ar = d3.area().x(function(d) { return x(d[0]); })
		.y0(y(0)).y1(function(d) { return y(d[1]); }).curve(d3.curveMonotoneX);
	var ln = d3.line().x(function(d) { return x(d[0]); })
		.y(function(d) { return y(d[1]); }).curve(d3.curveMonotoneX);
	f.inner.append("path").datum(p.kde).attr("d", ar)
		.attr("fill", "#d8d8d8").attr("fill-opacity", 0.3);
	f.inner.append("path").datum(p.kde).attr("d", ln)
		.attr("fill", "none").attr("stroke", "#222").attr("stroke-width", 1.3);
	baseLine(f.g, y);
	yAxis(f.g, y, p.ticks);
	p.title.forEach(function(t, i) {
		f.g.append("text")
			.attr("x", 859).attr("y", p.top + p.titleDy[i])
			.attr("text-anchor", "end").attr("dominant-baseline", "central")
			.attr("font-size", 13).attr("fill", "#222")
			.text(t);
	});
	if (p.peaks) labels(f.g, y, p.peaks, "#222", 12.5);
	if (p.arrows) arrows(f.g, y, p.arrows, "arrowK", "#222");
}

var histPanels = [
	{top: 410, bottom: 512, yMax: 11.1, bandTop: 11, ticks: b1Ticks, bands: b1Bands, bars: b1Bars, kde: b1Kde, title: b1Title, titleDy: [15, 29], peaks: b1Peaks},
	{top: 512, bottom: 628, yMax: 11.5, bandTop: 10, ticks: b2Ticks, bands: b2Bands, bars: b2Bars, kde: b2Kde, title: b2Title, titleDy: [30, 45], peaks: b2Peaks},
	{top: 628, bottom: 745, yMax: 13.8, bandTop: 12, ticks: b3Ticks, bands: b3Bands, bars: b3Bars, kde: b3Kde, title: b3Title, titleDy: [30, 46], peaks: b3Notes, arrows: b3Arrows},
	{top: 745, bottom: 862, yMax: 35.6, bandTop: 31, ticks: b4Ticks, bands: b4Bands, bars: b4Bars, kde: b4Kde, title: b4Title, titleDy: [28, 45], peaks: b4Notes, arrows: b4Arrows},
	{top: 862, bottom: 978, yMax: 29.9, bandTop: 26, ticks: b5Ticks, bands: b5Bands, bars: b5Bars, kde: b5Kde, title: b5Title, titleDy: [31, 46], peaks: b5Notes, arrows: b5Arrows},
	{top: 1028, bottom: 1129, yMax: 11.3, bandTop: 11, ticks: a1Ticks, bands: a1Bands, bars: a1Bars, kde: a1Kde, title: a1Title, titleDy: [13, 28], peaks: a1Peaks},
	{top: 1129, bottom: 1245, yMax: 12.55, bandTop: 11, ticks: a2Ticks, bands: a2Bands, bars: a2Bars, kde: a2Kde, title: a2Title, titleDy: [29, 45], peaks: a2Peaks},
	{top: 1245, bottom: 1362, yMax: 5.73, bandTop: 5, ticks: a3Ticks, bands: a3Bands, bars: a3Bars, kde: a3Kde, title: a3Title, titleDy: [28, 44], peaks: a3Peaks},
	{top: 1362, bottom: 1478, yMax: 9.2, bandTop: 8, ticks: a4Ticks, bands: a4Bands, bars: a4Bars, kde: a4Kde, title: a4Title, titleDy: [26, 42], peaks: a4Peaks}
];
histPanels.forEach(histPanel);

// ---------- section frames, bottom axes and side labels ----------
var sections = [
	{top: 31, bottom: 362, letter: "(c)", letterY: 47, side: [["Upper plate", 139], ["Lower plate", 305]], freqY: 196},
	{top: 410, bottom: 978, letter: "(b)", letterY: 426, side: [["Shamil Area", 694]], freqY: 694},
	{top: 1028, bottom: 1478, letter: "(a)", letterY: 1041, side: [["Haji Abad Area", 1253]], freqY: 1253}
];

sections.forEach(function(s) {
	var g = svg.append("g");
	g.append("line").attr("x1", x(0)).attr("x2", x(1200)).attr("y1", s.top).attr("y2", s.top)
		.attr("stroke", "#666").attr("stroke-width", 1);
	g.append("line").attr("x1", x(1200)).attr("x2", x(1200)).attr("y1", s.top).attr("y2", s.bottom)
		.attr("stroke", "#777").attr("stroke-width", 1);
	g.append("g")
		.attr("transform", "translate(0," + s.bottom + ")")
		.call(d3.axisBottom(x).tickValues(ageTicks.concat(minorTicks)).tickSize(5).tickSizeOuter(0).tickPadding(7)
			.tickFormat(function(d) { return ageTicks.indexOf(d) >= 0 ? d : ""; }))
		.call(function(a) {
			a.select(".domain").remove();
			a.selectAll(".tick line").attr("stroke", "#444");
			a.selectAll("text").attr("font-size", 12.5).attr("fill", "#222").attr("font-family", FONT);
		});
	g.append("text")
		.attr("x", (x(0) + x(1200)) / 2).attr("y", s.bottom + 34)
		.attr("text-anchor", "middle").attr("dominant-baseline", "central")
		.attr("font-size", 13).attr("fill", "#222")
		.text("Detrital Zircon U-Pb Age (Ma)");
	g.append("text")
		.attr("x", 875).attr("y", s.letterY)
		.attr("text-anchor", "middle").attr("dominant-baseline", "central")
		.attr("font-size", 16).attr("fill", "#222")
		.text(s.letter);
	s.side.forEach(function(t) {
		g.append("text")
			.attr("transform", "translate(876," + t[1] + ") rotate(-90)")
			.attr("text-anchor", "middle").attr("dominant-baseline", "central")
			.attr("font-size", 13.5).attr("fill", "#333")
			.text(t[0]);
	});
	g.append("text")
		.attr("transform", "translate(15," + s.freqY + ") rotate(-90)")
		.attr("text-anchor", "middle").attr("dominant-baseline", "central")
		.attr("font-size", 13.5).attr("fill", "#222")
		.text("Frequency");
});
</script>
</body>
</html>
